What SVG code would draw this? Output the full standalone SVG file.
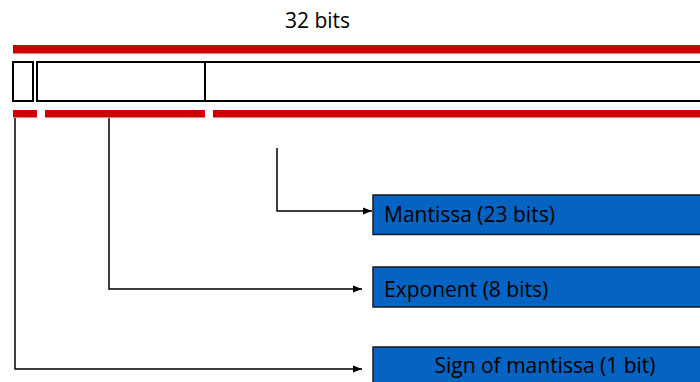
<svg xmlns="http://www.w3.org/2000/svg" width="700" height="382" viewBox="0 0 700 382">
  <style>
    .bar { fill: #cc0000; }
    .cell { fill: #ffffff; stroke: #000000; stroke-width: 2; }
    .field { fill: #0563c1; stroke: #1a1a1a; stroke-width: 1.5; }
    .label { font-family: "Open Sans", "Noto Sans", "Liberation Sans", sans-serif; font-size: 21px; fill: #000000; }
    .wire { fill: none; stroke: #000000; stroke-width: 1.5; }
  </style>
  <defs>
    <marker id="arrow" markerWidth="9" markerHeight="8" refX="9" refY="4" orient="auto" markerUnits="userSpaceOnUse">
      <path d="M0,0.5 L9,4 L0,7.5 Z" fill="#000000"/>
    </marker>
  </defs>

  <g id="word">
    <text class="label" x="285" y="28">32 bits</text>
    <rect class="bar" x="13" y="45" width="700" height="8.5"/>
    <rect class="cell" x="13" y="62" width="20" height="39"/>
    <rect class="cell" x="37" y="62" width="168" height="39"/>
    <rect class="cell" x="205" y="62" width="520" height="39"/>
    <rect class="bar" x="13" y="110" width="24" height="7.5"/>
    <rect class="bar" x="45" y="110" width="160" height="7.5"/>
    <rect class="bar" x="213" y="110" width="500" height="7.5"/>
  </g>

  <g id="connectors">
    <path class="wire" d="M277,148 V211 H372" marker-end="url(#arrow)"/>
    <path class="wire" d="M109,118 V289 H362" marker-end="url(#arrow)"/>
    <path class="wire" d="M15,118 V369 H362" marker-end="url(#arrow)"/>
  </g>

  <g id="mantissa">
    <rect class="field" x="373" y="195" width="340" height="39.5"/>
    <text class="label" x="384" y="222">Mantissa (23 bits)</text>
  </g>

  <g id="exponent">
    <rect class="field" x="373" y="267" width="340" height="40"/>
    <text class="label" x="384" y="297">Exponent (8 bits)</text>
  </g>

  <g id="sign">
    <rect class="field" x="373" y="347" width="340" height="45"/>
    <text class="label" x="545" y="373" text-anchor="middle">Sign of mantissa (1 bit)</text>
  </g>
</svg>
